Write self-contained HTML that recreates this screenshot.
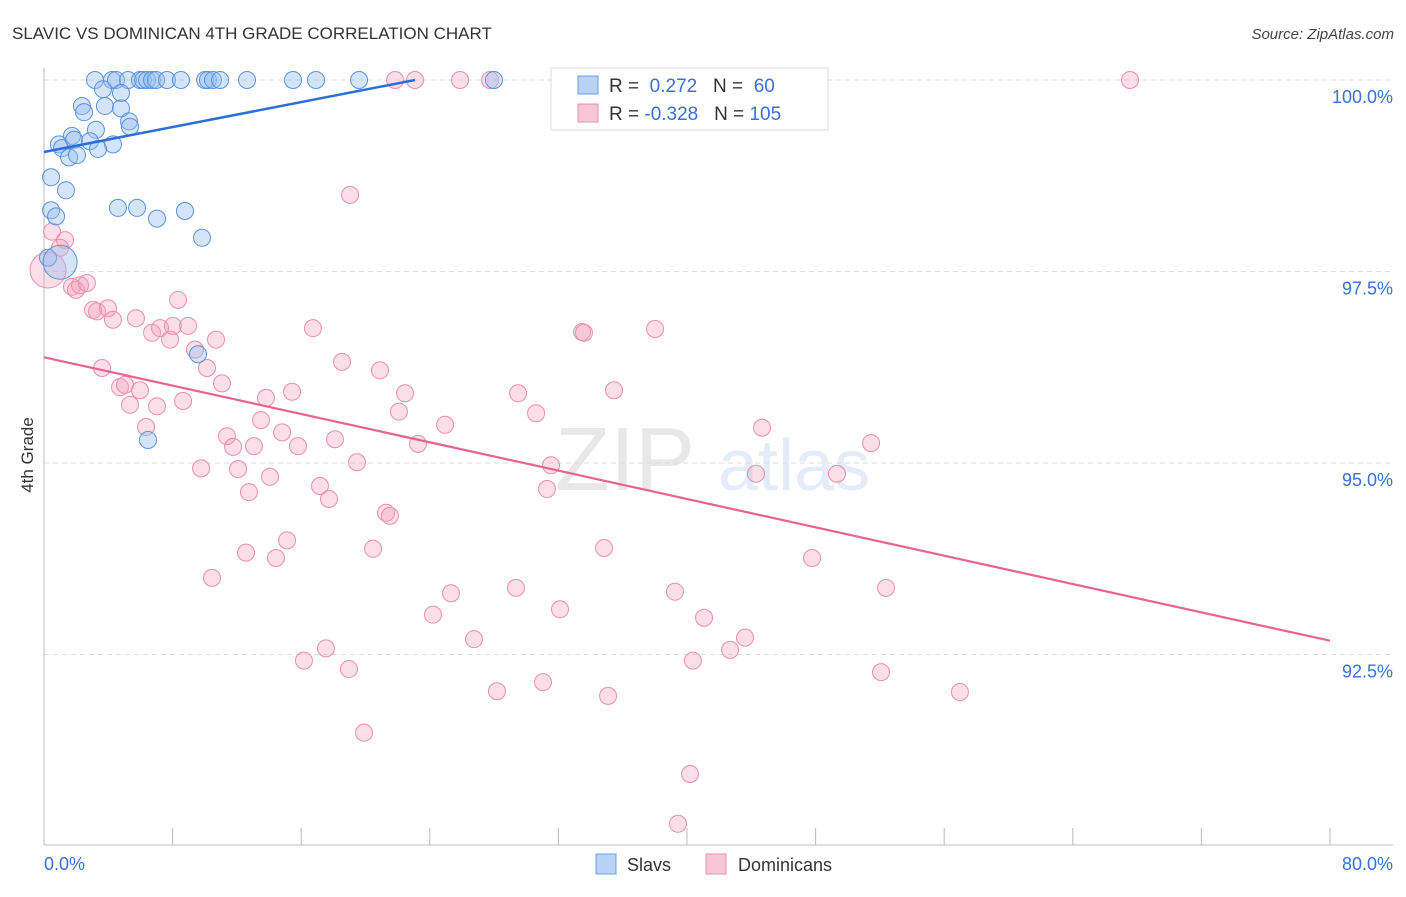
<!DOCTYPE html>
<html><head><meta charset="utf-8"><style>
body{margin:0;background:#fff;font-family:"Liberation Sans",sans-serif;}
svg text{font-family:"Liberation Sans",sans-serif;}
</style></head><body>
<svg id="chart" width="1406" height="892" xmlns="http://www.w3.org/2000/svg">
<text x="12" y="39" font-size="17" fill="#333">SLAVIC VS DOMINICAN 4TH GRADE CORRELATION CHART</text>
<text x="1394" y="39" font-size="15" fill="#444" text-anchor="end" font-style="italic">Source: ZipAtlas.com</text>
<g opacity="0.13"><text x="555" y="490" font-size="90" font-family="Liberation Serif" fill="#555">ZIP</text><text x="718" y="490" font-size="72" fill="#3a6fd8">atlas</text></g>
<g id="grid"></g><g id="axes"></g><g id="pts"></g><g id="lines"></g>
<text transform="translate(33,455) rotate(-90)" font-size="17" fill="#333" text-anchor="middle">4th Grade</text>
<g>
<rect x="551" y="68" width="277" height="62" fill="#fff" stroke="#ddd"/>
<rect x="578" y="76" width="20" height="18" fill="#b8d3f5" stroke="#6a9de0"/>
<rect x="578" y="104" width="20" height="18" fill="#f9c6d6" stroke="#eb8fab"/>
<text x="609" y="92" font-size="19" fill="#333">R = <tspan fill="#3a6fd8">&#160;0.272</tspan>&#160;&#160;&#160;N = <tspan fill="#3a6fd8">&#160;60</tspan></text>
<text x="609" y="120" font-size="19" fill="#333">R = <tspan fill="#3a6fd8">-0.328</tspan>&#160;&#160;&#160;N = <tspan fill="#3a6fd8">105</tspan></text>
</g>
<g>
<rect x="596" y="854" width="20" height="20" fill="#b8d3f5" stroke="#6a9de0"/>
<text x="627" y="871" font-size="18" fill="#333">Slavs</text>
<rect x="706" y="854" width="20" height="20" fill="#f9c6d6" stroke="#eb8fab"/>
<text x="738" y="871" font-size="18" fill="#333">Dominicans</text>
</g>
</svg>
<script>
const xTicks=[0,8,16,24,32,40,48,56,64,72,80];
const yTicks=[100,97.5,95,92.5];
const yTickLabels=["100.0%","97.5%","95.0%","92.5%"];
const xEndLabels=["0.0%","80.0%"];
const slavX=[3.17,4.23,4.48,5.23,5.97,6.16,6.41,6.72,6.97,7.65,8.52,10.02,10.2,10.51,10.95,12.63,15.49,16.92,19.6,27.99,3.67,4.79,2.36,2.49,3.79,4.79,5.29,3.23,1.74,5.35,0.93,1.12,1.87,2.86,4.29,1.56,2.05,3.36,0.44,1.37,0.44,0.75,4.6,5.79,7.03,8.77,9.83,0.25,9.58,6.47,1.0];
const slavY=[100,100,100,100,100,100,100,100,100,100,100,100,100,100,100,100,100,100,100,100,99.88,99.83,99.66,99.58,99.66,99.63,99.46,99.35,99.27,99.39,99.16,99.11,99.22,99.2,99.16,98.99,99.02,99.1,98.73,98.56,98.3,98.22,98.33,98.33,98.19,98.29,97.94,97.68,96.42,95.3,97.62];
const domX=[21.84,23.08,25.88,27.75,45.35,67.56,19.04,0.5,1.31,1.0,0.25,1.74,1.99,2.24,2.67,3.05,3.3,3.98,4.29,5.72,6.72,7.22,7.84,8.02,8.34,8.96,9.39,10.14,10.7,11.07,3.61,4.73,5.04,5.97,5.35,7.03,8.65,6.35,9.77,11.38,11.76,12.07,13.06,13.5,13.81,14.81,15.43,15.8,16.73,18.1,18.54,19.47,20.9,22.08,22.46,23.27,24.95,12.75,14.06,17.17,17.73,21.28,21.52,31.29,31.54,30.61,29.49,35.46,33.47,33.59,38.01,44.67,44.29,49.33,51.45,15.12,12.57,14.43,20.47,10.45,34.84,47.78,52.38,29.36,25.32,24.2,32.1,39.25,41.06,26.75,17.54,16.17,18.97,43.61,42.68,40.37,31.04,28.18,35.09,52.07,56.98,19.91,40.19,39.44];
const domY=[100,100,100,100,100,100,98.5,98.02,97.91,97.81,97.52,97.3,97.26,97.32,97.35,97,96.98,97.02,96.87,96.89,96.7,96.76,96.61,96.79,97.13,96.79,96.48,96.24,96.61,96.04,96.24,95.99,96.02,95.95,95.76,95.74,95.81,95.47,94.93,95.35,95.21,94.92,95.22,95.56,95.85,95.4,95.93,95.22,96.76,95.31,96.32,95.01,96.21,95.67,95.91,95.25,95.5,94.62,94.82,94.7,94.53,94.35,94.31,94.66,94.97,95.65,95.91,95.95,96.71,96.7,96.75,95.46,94.86,94.86,95.26,93.99,93.83,93.76,93.88,93.5,93.89,93.76,93.37,93.37,93.3,93.02,93.09,93.32,92.98,92.7,92.58,92.42,92.31,92.72,92.56,92.42,92.14,92.02,91.96,92.27,92.01,91.48,90.94,90.29];
const slavLine=[[0,99.06],[23.08,100]];
const domLine=[[0,96.38],[80,92.68]];
const NS="http://www.w3.org/2000/svg";
const X=v=>44+v*(1286/80);
const Y=v=>80+(100-v)*76.6;
function mk(tag,attrs,parent){const e=document.createElementNS(NS,tag);for(const k in attrs)e.setAttribute(k,attrs[k]);parent.appendChild(e);return e;}
const grid=document.getElementById('grid'),axes=document.getElementById('axes'),pts=document.getElementById('pts'),lines=document.getElementById('lines');
yTicks.forEach((t,i)=>{
 const l=mk('line',{x1:44,x2:1393,y1:Y(t),y2:Y(t),stroke:'#ddd','stroke-dasharray':'5,4'},grid);
 
 
 const tx=mk('text',{x:1393,y:Y(t)+23,'font-size':18,fill:'#3a6fd8','text-anchor':'end'},axes);
 tx.textContent=yTickLabels[i];
 
 
});
const ya=mk('line',{x1:44,x2:44,y1:68,y2:845,stroke:'#bbb'},axes);


const xa=mk('line',{x1:44,x2:1393,y1:845,y2:845,stroke:'#bbb'},axes);


xTicks.forEach(t=>{
 const l=mk('line',{x1:X(t),x2:X(t),y1:828,y2:845,stroke:'#bbb'},axes);
 
 
});
const x0=mk('text',{x:44,y:870,'font-size':18,fill:'#3a6fd8'},axes);x0.textContent=xEndLabels[0];


const x1=mk('text',{x:1393,y:870,'font-size':18,fill:'#3a6fd8','text-anchor':'end'},axes);x1.textContent=xEndLabels[1];


domX.forEach((v,i)=>{
 const big=(i===10);
 const c=mk('circle',{cx:X(v),cy:Y(domY[i]),r:big?18:8.5,fill:'rgba(244,160,188,0.35)',stroke:'#eb8fab','stroke-width':1},pts);
 
 
});
slavX.forEach((v,i)=>{
 const big=(i===slavX.length-1);
 const c=mk('circle',{cx:X(v),cy:Y(slavY[i]),r:big?17:8.5,fill:'rgba(150,190,240,0.4)',stroke:'#5a92dd','stroke-width':1},pts);
 
 
});
const sl=mk('line',{x1:X(slavLine[0][0]),y1:Y(slavLine[0][1]),x2:X(slavLine[1][0]),y2:Y(slavLine[1][1]),stroke:'#2a6fd6','stroke-width':2.5},lines);


const dl=mk('line',{x1:X(domLine[0][0]),y1:Y(domLine[0][1]),x2:X(domLine[1][0]),y2:Y(domLine[1][1]),stroke:'#e8638f','stroke-width':2.2},lines);


</script>
</body></html>
